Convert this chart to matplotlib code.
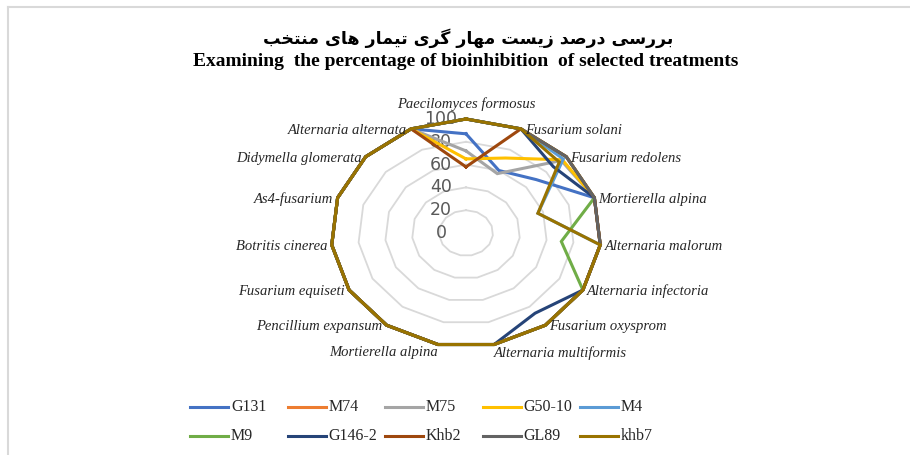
import numpy as np
import matplotlib
matplotlib.use('Agg')
import matplotlib.pyplot as plt
from matplotlib.lines import Line2D

# categories, clockwise from the top
categories = ['Paecilomyces formosus', 'Fusarium solani', 'Fusarium redolens',
              'Mortierella alpina', 'Alternaria malorum', 'Alternaria infectoria',
              'Fusarium oxysprom', 'Alternaria multiformis', 'Mortierella alpina',
              'Pencillium expansum', 'Fusarium equiseti', 'Botritis cinerea',
              'As4-fusarium', 'Didymella glomerata', 'Alternaria alternata']

series_names = ['G131', 'M74', 'M75', 'G50-10', 'M4', 'M9', 'G146-2', 'Khb2', 'GL89', 'khb7']
G131 = [87, 60, 70, 100, 100, 100, 100, 100, 100, 100, 100, 100, 100, 100, 100]
M74 = [100, 100, 100, 100, 100, 100, 100, 100, 100, 100, 100, 100, 100, 100, 100]
M75 = [72, 57, 95, 100, 100, 100, 100, 100, 100, 100, 100, 100, 100, 100, 100]
G50_10 = [65, 72, 96, 100, 100, 100, 100, 100, 100, 100, 100, 100, 100, 100, 100]
M4 = [100, 100, 97, 56, 100, 100, 100, 100, 100, 100, 100, 100, 100, 100, 100]
M9 = [100, 100, 100, 100, 71, 100, 100, 100, 100, 100, 100, 100, 100, 100, 100]
G146_2 = [100, 100, 87, 100, 100, 100, 87, 100, 100, 100, 100, 100, 100, 100, 100]
Khb2 = [58, 100, 100, 100, 100, 100, 100, 100, 100, 100, 100, 100, 100, 100, 100]
GL89 = [100, 100, 100, 100, 100, 100, 100, 100, 100, 100, 100, 100, 100, 100, 100]
khb7 = [100, 100, 93, 56, 100, 100, 100, 100, 100, 100, 100, 100, 100, 100, 100]
all_series = [G131, M74, M75, G50_10, M4, M9, G146_2, Khb2, GL89, khb7]
colors = ['#4472C4', '#ED7D31', '#A5A5A5', '#FFC000', '#5B9BD5',
          '#70AD47', '#264478', '#9E480E', '#636363', '#997300']
ticks = [0, 20, 40, 60, 80, 100]

title_fa = 'بررسی درصد زیست مهار گری تیمار های منتخب'
title_en = 'Examining  the percentage of bioinhibition  of selected treatments'


# --- small persian shaper (matplotlib draws glyphs left to right, unshaped)
FORMS = {
    'ا': ('\uFE8D', '\uFE8E', None, None),
    'ب': ('\uFE8F', '\uFE90', '\uFE91', '\uFE92'),
    'ت': ('\uFE95', '\uFE96', '\uFE97', '\uFE98'),
    'خ': ('\uFEA5', '\uFEA6', '\uFEA7', '\uFEA8'),
    'د': ('\uFEA9', '\uFEAA', None, None),
    'ر': ('\uFEAD', '\uFEAE', None, None),
    'ز': ('\uFEAF', '\uFEB0', None, None),
    'س': ('\uFEB1', '\uFEB2', '\uFEB3', '\uFEB4'),
    'ص': ('\uFEB9', '\uFEBA', '\uFEBB', '\uFEBC'),
    'م': ('\uFEE1', '\uFEE2', '\uFEE3', '\uFEE4'),
    'ن': ('\uFEE5', '\uFEE6', '\uFEE7', '\uFEE8'),
    'ه': ('\uFEE9', '\uFEEA', '\uFEEB', '\uFEEC'),
    'ی': ('\uFBFC', '\uFBFD', '\uFBFE', '\uFBFF'),
    'گ': ('\uFB92', '\uFB93', '\uFB94', '\uFB95'),
}


def shape(text):
    out = []
    for i, ch in enumerate(text):
        if ch not in FORMS:
            out.append(ch)
            continue
        prev = text[i - 1] if i > 0 else ''
        nxt = text[i + 1] if i < len(text) - 1 else ''
        join_prev = prev in FORMS and FORMS[prev][2] is not None
        join_next = nxt in FORMS and FORMS[ch][2] is not None
        iso, fin, ini, med = FORMS[ch]
        if join_prev and join_next:
            out.append(med)
        elif join_prev:
            out.append(fin)
        elif join_next:
            out.append(ini)
        else:
            out.append(iso)
    return ''.join(out)[::-1]


W, H = 910, 455
fig = plt.figure(figsize=(W / 100, H / 100), dpi=100)
fig.patch.set_facecolor('white')

# border of the chart area
fig.add_artist(Line2D([8 / W, 1], [1 - 7 / H, 1 - 7 / H], color='#D9D9D9', lw=1.5))
fig.add_artist(Line2D([8 / W, 8 / W], [0, 1 - 7 / H], color='#D9D9D9', lw=1.5))

fig.text(468 / W, 1 - 38 / H, shape(title_fa), ha='center', va='center',
         fontsize=12.5, fontweight='bold', family='DejaVu Sans')
fig.text(466 / W, 1 - 62 / H, title_en, ha='center', va='center',
         fontsize=14, fontweight='bold', family='Liberation Serif')

# radar drawn on a plain axes (the original is stretched horizontally)
cx, cy, rx, ry = 466, 233, 135, 114
lim = 130
ax = fig.add_axes([(cx - rx * lim / 100) / W, (H - cy - ry * lim / 100) / H,
                   2 * rx * lim / 100 / W, 2 * ry * lim / 100 / H])
ax.set_xlim(-lim, lim)
ax.set_ylim(-lim, lim)
ax.axis('off')

n = len(categories)
theta = np.pi / 2 - 2 * np.pi * np.arange(n) / n
ct, st = np.cos(theta), np.sin(theta)

for t in ticks[1:]:
    ax.plot(np.append(t * ct, t * ct[0]), np.append(t * st, t * st[0]),
            color='#D9D9D9', lw=1.3, zorder=1)

for t in ticks:
    ax.annotate(str(t), (0, t), xytext=(-18, 0), textcoords='offset points',
                ha='center', va='center', fontsize=12.5, color='#595959',
                family='DejaVu Sans', zorder=2)

for vals, name, col in zip(all_series, series_names, colors):
    v = np.array(vals, dtype=float)
    ax.plot(np.append(v * ct, v[0] * ct[0]), np.append(v * st, v[0] * st[0]),
            color=col, lw=2.2, solid_joinstyle='miter', zorder=3)

for i, lab in enumerate(categories):
    c, s = ct[i], st[i]
    if abs(c) < 0.05:
        ha, va, off = 'center', 'bottom', (0, 6)
    elif s < -0.95:
        ha = 'left' if c > 0 else 'right'
        va, off = 'top', (0, -1)
    else:
        ha = 'left' if c > 0 else 'right'
        va, off = 'center', (3 if c > 0 else -3, -1)
    ax.annotate(lab, (100 * c, 100 * s), xytext=off, textcoords='offset points',
                ha=ha, va=va, fontsize=10.5, style='italic',
                family='Liberation Serif', color='#262626')

# legend, two rows of five
lx0, ldx, ly0, ldy, llen = 190, 97.5, 407, 29, 38
for k, (name, col) in enumerate(zip(series_names, colors)):
    x = lx0 + (k % 5) * ldx
    y = ly0 + (k // 5) * ldy
    fig.add_artist(Line2D([x / W, (x + llen) / W], [1 - y / H, 1 - y / H],
                          color=col, lw=2.2))
    fig.text((x + llen + 3) / W, 1 - y / H, name, ha='left', va='center',
             fontsize=11.5, family='Liberation Serif', color='#262626')

fig.savefig('out.png', dpi=100)
